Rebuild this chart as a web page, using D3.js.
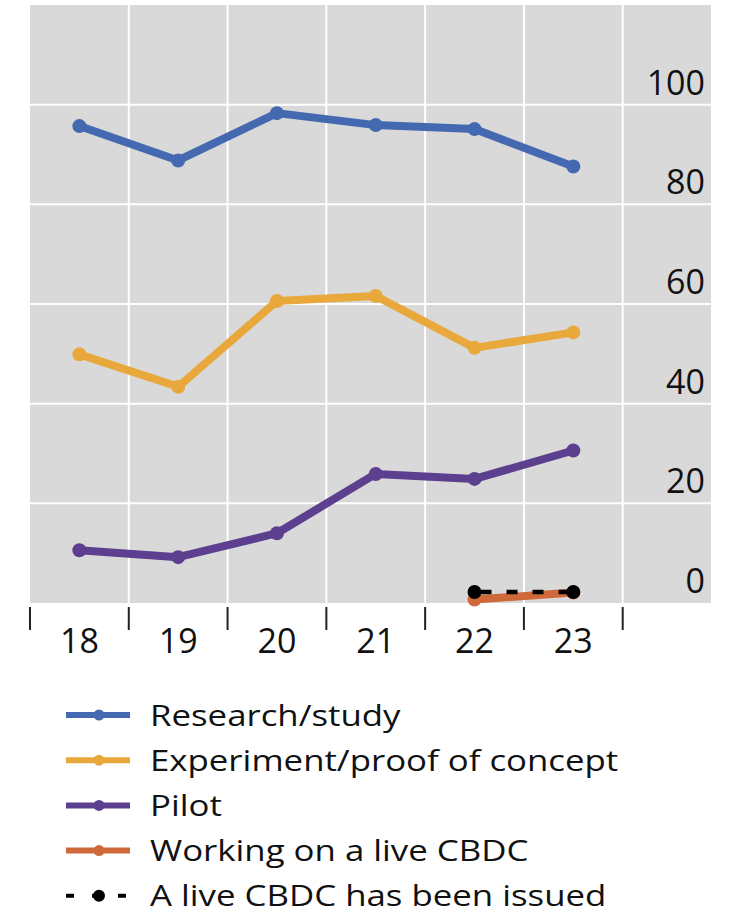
<!DOCTYPE html>
<html>
<head>
<meta charset="utf-8">
<script src="https://cdn.jsdelivr.net/npm/d3@7"></script>
<style>
  html, body { margin: 0; padding: 0; background: #fff; }
  svg { display: block; font-family: "Open Sans", sans-serif; }
</style>
</head>
<body>
<svg id="chart" width="731" height="914"></svg>
<script>
const years = ["18", "19", "20", "21", "22", "23"];
const yTicks = [0, 20, 40, 60, 80, 100];
const research = [95.7, 88.8, 98.3, 95.9, 95.1, 87.6];
const experiment = [49.9, 43.4, 60.6, 61.6, 51.2, 54.3];
const pilot = [10.6, 9.2, 14.0, 25.9, 24.9, 30.6];
const working = [null, null, null, null, 0.7, 2.1];
const issued = [null, null, null, null, 2.2, 2.2];
const seriesNames = ["Research/study", "Experiment/proof of concept", "Pilot", "Working on a live CBDC", "A live CBDC has been issued"];
const seriesColors = ["#4469b1", "#e9a83b", "#5c3f8e", "#d0693a", "#000000"];

const svg = d3.select("#chart");
const panel = { left: 30, right: 711, top: 5, bottom: 603 };

const x = d3.scaleBand().domain(years).range([30, 622.7]).padding(0);
const y = d3.scaleLinear().domain([0, 120]).range([panel.bottom, panel.top]);

// background
svg.append("rect")
  .attr("x", panel.left).attr("y", panel.top)
  .attr("width", panel.right - panel.left).attr("height", panel.bottom - panel.top)
  .attr("fill", "#d9d9d9");

// vertical gridlines at band boundaries
const bounds = years.map(d => x(d)).concat([x(years[years.length - 1]) + x.bandwidth()]);
svg.append("g").selectAll("line").data(bounds.slice(1)).join("line")
  .attr("x1", d => d).attr("x2", d => d)
  .attr("y1", panel.top).attr("y2", panel.bottom)
  .attr("stroke", "#fff").attr("stroke-width", 2);

// horizontal gridlines
svg.append("g").selectAll("line").data(yTicks.filter(d => d > 0)).join("line")
  .attr("x1", panel.left).attr("x2", panel.right)
  .attr("y1", d => y(d)).attr("y2", d => y(d))
  .attr("stroke", "#fff").attr("stroke-width", 2);

// y labels (right, above gridlines)
svg.append("g").selectAll("text").data(yTicks).join("text")
  .attr("x", 705).attr("y", d => y(d) - 10)
  .attr("text-anchor", "end")
  .attr("font-size", 34)
  .attr("fill", "#111")
  .text(d => d);

// x ticks at boundaries
svg.append("g").selectAll("line").data(bounds).join("line")
  .attr("x1", d => d).attr("x2", d => d)
  .attr("y1", 607).attr("y2", 630)
  .attr("stroke", "#222").attr("stroke-width", 2);

// x labels
svg.append("g").selectAll("text").data(years).join("text")
  .attr("x", d => x(d) + x.bandwidth() / 2).attr("y", 653)
  .attr("text-anchor", "middle")
  .attr("font-size", 34)
  .attr("fill", "#111")
  .text(d => d);

const cx = d => x(d) + x.bandwidth() / 2;
const allSeries = [research, experiment, pilot, working, issued];

allSeries.forEach((vals, i) => {
  const pts = years.map((yr, j) => ({ yr, v: vals[j] })).filter(p => p.v !== null);
  const line = d3.line().x(p => cx(p.yr)).y(p => y(p.v));
  const isIssued = i === 4;
  svg.append("path").datum(pts)
    .attr("d", line)
    .attr("fill", "none")
    .attr("stroke", seriesColors[i])
    .attr("stroke-width", isIssued ? 4.5 : 8)
    .attr("stroke-dasharray", isIssued ? "11,15" : null)
    .attr("stroke-dashoffset", isIssued ? -6 : null)
    .attr("stroke-linejoin", "round");
  svg.append("g").selectAll("circle").data(pts).join("circle")
    .attr("cx", p => cx(p.yr)).attr("cy", p => y(p.v))
    .attr("r", 7)
    .attr("fill", seriesColors[i]);
});

// legend
const legend = svg.append("g");
seriesNames.forEach((name, i) => {
  const ly = 715 + i * 45.2;
  const g = legend.append("g");
  const isIssued = i === 4;
  g.append("line")
    .attr("x1", 66).attr("x2", 130).attr("y1", ly).attr("y2", ly)
    .attr("stroke", seriesColors[i])
    .attr("stroke-width", isIssued ? 4 : 6)
    .attr("stroke-dasharray", isIssued ? "8,18" : null);
  g.append("circle").attr("cx", 99).attr("cy", ly).attr("r", isIssued ? 6 : 5.5)
    .attr("fill", seriesColors[i]);
  g.append("text")
    .attr("transform", `translate(150,${ly + 10.5}) scale(1.18,1)`)
    .attr("font-size", 29.5)
    .attr("fill", "#111")
    .text(name);
});
</script>
</body>
</html>
